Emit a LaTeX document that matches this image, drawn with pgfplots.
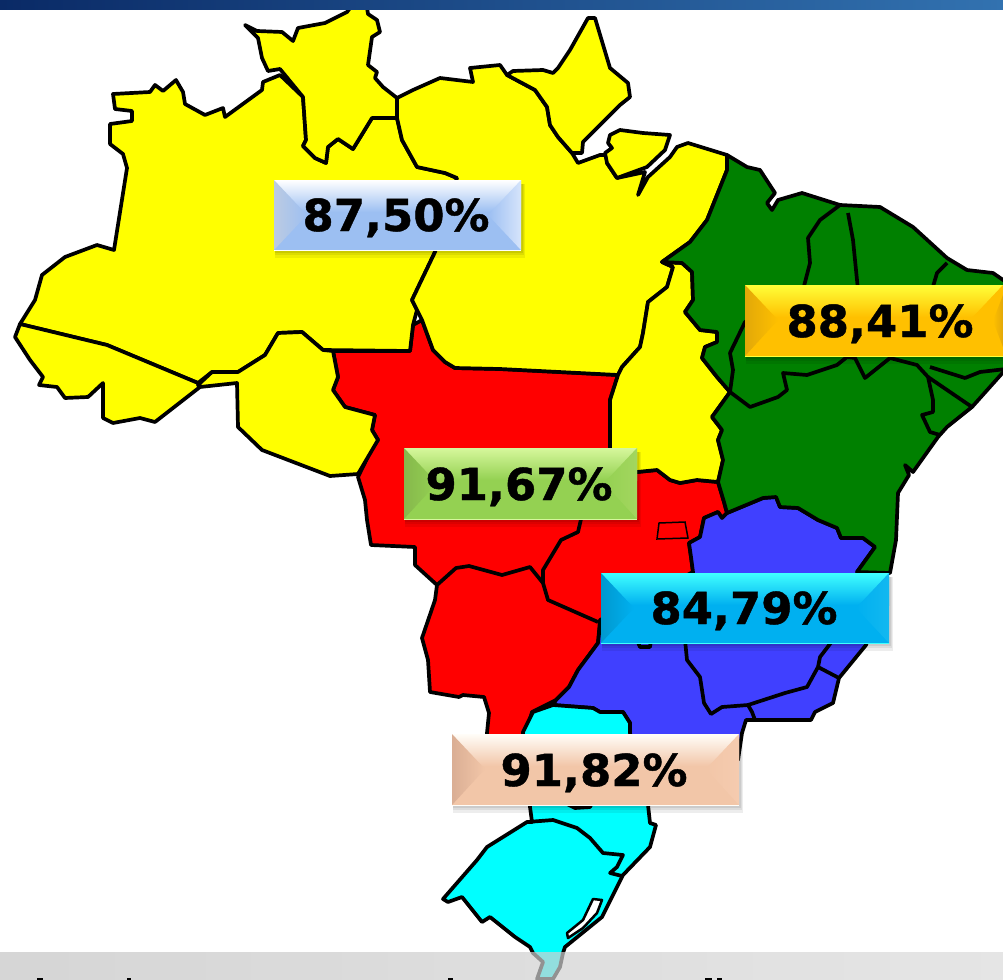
\documentclass[border=0pt]{standalone}
\usepackage{fontspec}
\setmainfont{DejaVu Sans}
\newfontfamily\platefont[FakeBold=1]{DejaVu Sans Bold}
\usepackage{pgfplots}
\pgfplotsset{compat=1.18}

\definecolor{mapyellow}{HTML}{FFFF00}
\definecolor{mapred}{HTML}{FF0000}
\definecolor{mapgreen}{HTML}{008000}
\definecolor{mapblue}{HTML}{4040FF}
\definecolor{mapcyan}{HTML}{00FFFF}
% plates: top, middle, left, right
\definecolor{bluemid}{HTML}{9CBFF2}
\definecolor{blueleft}{HTML}{BCCBE2}
\definecolor{blueright}{HTML}{D6E4FB}
\definecolor{greentop}{HTML}{D6F79C}
\definecolor{greenmid}{HTML}{94D152}
\definecolor{greenleft}{HTML}{86B84C}
\definecolor{greenright}{HTML}{A3D65F}
\definecolor{skytop}{HTML}{40FFFF}
\definecolor{skymid}{HTML}{00B0F0}
\definecolor{skyleft}{HTML}{0099CF}
\definecolor{skyright}{HTML}{12B8F0}
\definecolor{peachtop}{HTML}{FFFDF8}
\definecolor{peachmid}{HTML}{F2C6A8}
\definecolor{peachleft}{HTML}{DAAE94}
\definecolor{peachright}{HTML}{F5CBAF}
\definecolor{goldtop}{HTML}{FFFF38}
\definecolor{goldmid}{HTML}{FFC000}
\definecolor{goldleft}{HTML}{E2A808}
\definecolor{barleft}{HTML}{0A2A66}
\definecolor{barright}{HTML}{3272B0}
\definecolor{stripleft}{HTML}{C4C4C4}
\definecolor{stripright}{HTML}{DADADA}

\pgfplotsset{
  region/.style={draw=black, line width=3.7pt, line join=round, fill=#1},
  border/.style={draw=black, line width=3.7pt, line join=round, no markers},
}

% percentage plate: x1 y1 x2 y2 top mid left right
\newcommand{\plate}[8]{
  \path[fill=black, fill opacity=0.07] (axis cs:#1+1,#2+4) rectangle (axis cs:#3+4,#4+8);
  \path[fill=black, fill opacity=0.07] (axis cs:#1+1,#2+4) rectangle (axis cs:#3+3,#4+5);
  \path[fill=black, fill opacity=0.08] (axis cs:#1+1,#2+4) rectangle (axis cs:#3+2,#4+3);
  \path[top color=#5, bottom color=#6] (axis cs:#1,#2) rectangle (axis cs:#3,#2+32);
  \path[fill=#6] (axis cs:#1,#2+32) rectangle (axis cs:#3,#4);
  \path[left color=#7, right color=#6] (axis cs:#1,#2) -- (axis cs:#1+33,#2+35) -- (axis cs:#1,#4) -- cycle;
  \path[left color=#6, right color=#8] (axis cs:#3,#2) -- (axis cs:#3-33,#2+35) -- (axis cs:#3,#4) -- cycle;
  \path[draw=#5, line width=1pt] (axis cs:#1,#4) -- (axis cs:#3,#4);
}
\newcommand{\pct}[3]{
  \node[anchor=base, inner sep=0pt, font=\fontsize{44}{48}\selectfont\platefont, xscale=1.02]
    at (axis cs:#1,#2) {#3};
}

\begin{document}
\begin{tikzpicture}
\begin{axis}[
  width=1003pt, height=979pt, scale only axis,
  xmin=0, xmax=1003, ymin=0, ymax=979,
  y dir=reverse,
  hide axis,
  no markers,
]

% centre-west
\addplot[region=mapred] coordinates {
  (333,351)(410,351)(413,325)(422,320)(433,350)(445,362)(455,368)(500,369)(618,375)
  (610,400)(610,447)(610,472)(637,472)(657,470)(670,480)(680,483)(697,480)(718,482)
  (724,502)(727,513)(722,518)(718,512)(704,518)(700,537)(689,543)(691,557)(693,572)
  (600,620)(598,643)(578,670)(569,687)(556,700)(532,712)(526,733)(526,760)(490,760)
  (487,733)(489,713)(484,697)(463,695)(459,697)(430,692)(428,660)(422,638)(435,600)
  (437,585)(415,565)(415,547)(371,545)(367,520)(365,500)(358,477)(376,440)(378,440)
  (372,430)(375,415)(345,407)(333,390)(338,377)
} --cycle;

% south-east
\addplot[region=mapblue] coordinates {
  (857,572)(875,547)(863,538)(841,538)(837,528)(818,520)(798,508)(780,507)(776,497)
  (763,498)(727,513)(722,518)(718,512)(704,518)(700,537)(689,543)(691,557)(693,572)
  (693,600)(600,625)(598,643)(578,670)(569,687)(556,700)(553,705)(593,708)(600,712)
  (623,712)(630,723)(630,760)(738,760)(742,733)(746,720)(755,720)(811,720)(815,712)
  (833,703)(839,678)(866,645)(880,600)
} --cycle;

% south
\addplot[region=mapcyan] coordinates {
  (523,732)(533,712)(553,705)(593,708)(600,712)(623,712)(630,723)(630,733)(640,770)
  (648,805)(650,823)(656,825)(650,847)(623,875)(617,887)(602,917)(565,947)(563,953)
  (560,967)(553,979)(537,979)(543,962)(533,953)(530,947)(515,937)(490,917)(482,922)
  (462,897)(448,902)(443,899)(477,860)(487,847)(527,822)(532,822)(530,807)(525,770)
} --cycle;

% north: Amazonas, Roraima, Acre, Rondonia, Para, Amapa, Marajo, Tocantins
\addplot[region=mapyellow] coordinates {
  (280,75)(263,82)(262,90)(225,117)(223,108)(205,115)(185,104)(183,92)(176,80)(163,91)
  (155,85)(150,92)(113,94)(115,109)(132,111)(132,121)(110,124)(110,144)(123,154)(127,168)
  (114,250)(97,245)(65,257)(42,275)(35,300)(20,324)(107,345)(198,383)(212,372)(238,372)
  (265,355)(278,333)(302,332)(323,350)(410,351)(413,325)(417,310)(412,300)(435,252)
  (457,178)(445,173)(417,167)(402,140)(397,118)(372,118)(353,149)(338,139)(328,147)
  (326,163)(315,158)(303,146)(306,140)(303,97)
} --cycle;
\addplot[region=mapyellow] coordinates {
  (245,25)(257,31)(282,32)(293,41)(298,28)(325,23)(347,12)(350,8)(367,8)(368,14)(377,20)
  (380,32)(372,37)(368,65)(377,72)(375,78)(383,87)(397,98)(397,118)(372,118)(353,149)
  (338,139)(328,147)(326,163)(315,158)(303,146)(306,140)(303,97)(280,69)(268,71)(262,58)(258,38)
} --cycle;
\addplot[region=mapyellow] coordinates {
  (15,337)(20,324)(107,345)(198,383)(200,387)(155,422)(140,418)(113,423)(103,418)(103,383)
  (88,397)(65,398)(57,387)(39,385)(43,377)(30,360)
} --cycle;
\addplot[region=mapyellow] coordinates {
  (198,385)(212,372)(238,372)(265,355)(278,333)(302,332)(323,350)(333,351)(338,377)(333,390)
  (345,407)(375,415)(372,430)(378,440)(358,474)(330,476)(262,450)(238,427)(237,383)(200,387)
} --cycle;
\addplot[region=mapyellow] coordinates {
  (397,98)(413,90)(440,78)(473,82)(470,68)(500,65)(507,75)(535,90)(547,107)(550,125)(558,137)
  (572,153)(578,163)(600,155)(607,155)(607,163)(617,178)(645,172)(638,195)(648,177)(670,157)
  (677,147)(688,143)(727,155)(727,170)(707,220)(690,242)(662,262)(673,267)(667,287)(648,302)
  (643,333)(640,347)(622,367)(618,375)(500,369)(455,368)(445,362)(433,350)(422,320)(412,300)
  (435,252)(457,178)(445,173)(417,167)(402,140)(397,118)
} --cycle;
\addplot[region=mapyellow] coordinates {
  (507,75)(513,71)(543,70)(553,73)(558,68)(570,50)(588,18)(595,18)(610,68)(628,83)(630,97)
  (620,105)(583,142)(582,153)(572,153)(558,137)(550,125)(547,107)(535,90)
} --cycle;
\addplot[region=mapyellow] coordinates {
  (610,135)(620,130)(643,133)(670,135)(665,150)(647,167)(617,178)(607,163)(605,153)(612,148)(608,143)
} --cycle;
\addplot[region=mapyellow] coordinates {
  (662,262)(682,263)(692,272)(693,300)(685,312)(700,330)(717,332)(717,342)(705,347)(702,358)
  (717,377)(730,392)(712,417)(722,430)(718,440)(723,460)(718,482)(697,480)(680,483)(670,480)
  (657,470)(637,472)(610,472)(610,447)(610,400)(618,375)(622,367)(640,347)(643,333)(648,302)
  (667,287)(673,267)
} --cycle;

% north-east
\addplot[region=mapgreen] coordinates {
  (727,155)(747,167)(760,170)(775,193)(767,203)(772,210)(778,200)(802,193)(840,205)(880,207)
  (913,227)(947,258)(967,270)(993,273)(1006,282)(1006,369)(972,407)(947,427)(938,437)(913,472)
  (905,465)(909,475)(898,493)(896,540)(890,573)(857,572)(875,547)(863,538)(841,538)(837,528)
  (818,520)(798,508)(780,507)(776,497)(763,498)(727,513)(724,502)(718,482)(723,460)(718,440)
  (722,430)(712,417)(730,392)(717,377)(702,358)(705,347)(717,342)(717,332)(700,330)(685,312)
  (693,300)(692,272)(682,263)(662,262)(690,242)(707,220)(727,170)
} --cycle;

% state borders inside the north-east
\addplot[border] coordinates {(840,205)(820,220)(808,238)(810,263)(803,290)(745,322)(730,353)(733,370)(730,392)};
\addplot[border] coordinates {(730,392)(750,407)(778,397)(787,390)(783,373)(807,375)(837,365)(847,357)(855,358)(865,378)(890,358)(917,365)(928,377)(933,400)(933,412)(922,415)(930,432)(940,435)};
\addplot[border] coordinates {(848,213)(853,240)(858,290)};
\addplot[border] coordinates {(947,263)(937,273)(932,290)};
\addplot[border] coordinates {(930,367)(965,378)(980,372)(1006,369)};
\addplot[border] coordinates {(928,377)(972,407)};

% state borders inside the centre-west
\addplot[border] coordinates {(437,585)(456,568)(469,566)(502,575)(530,567)(543,583)};
\addplot[border] coordinates {(582,515)(578,532)(561,540)(543,570)(543,583)(548,600)(598,622)};
\addplot[draw=black, line width=1.5pt, no markers] coordinates {(659,523)(685,522)(688,538)(657,539)} --cycle;

% state borders inside the south-east
\addplot[border] coordinates {(685,640)(687,660)(700,677)(704,703)(711,714)(722,707)(748,705)(785,693)(807,687)(818,667)(820,657)(833,640)};
\addplot[border] coordinates {(818,667)(839,678)};
\addplot[border] coordinates {(748,705)(752,712)(755,720)};
\addplot[border] coordinates {(637,640)(640,647)(650,647)(651,640)};

% state borders inside the south
\addplot[border] coordinates {(527,822)(553,820)(577,828)(590,838)(603,853)(623,855)(617,867)(610,873)(622,876)};
\addplot[border] coordinates {(565,803)(575,808)(590,807)(592,803)};

% lagoon
\addplot[draw=black, line width=2.5pt, line join=round, fill=white] coordinates {
  (593,899)(602,900)(597,913)(583,928)(568,938)(567,933)(583,920)
} --cycle;

\plate{274}{180}{521}{250}{white}{bluemid}{blueleft}{blueright}
\plate{404}{448}{637}{519}{greentop}{greenmid}{greenleft}{greenright}
\plate{601}{573}{889}{643}{skytop}{skymid}{skyleft}{skyright}
\plate{452}{734}{739}{805}{peachtop}{peachmid}{peachleft}{peachright}
% this one runs off the right edge
\plate{745}{285}{1003}{356}{goldtop}{goldmid}{goldleft}{goldmid}
\path[left color=goldmid, right color=goldleft] (axis cs:1003,295) -- (axis cs:993,321) -- (axis cs:1003,347) -- cycle;

\pct{396}{231}{87,50\%}
\pct{880}{337}{88,41\%}
\pct{519}{500}{91,67\%}
\pct{744}{624}{84,79\%}
\pct{594}{786}{91,82\%}

% bars of the slide
\path[left color=stripleft, right color=stripright, opacity=0.7] (axis cs:0,952) rectangle (axis cs:1003,979);
\path[left color=barleft, right color=barright] (axis cs:0,0) rectangle (axis cs:1003,10);

% tops of the cut-off line of text at the bottom edge
\addplot[draw=black, line width=2pt, no markers] coordinates {(37,978.5)(43,978.5)};
\addplot[draw=black, line width=2pt, no markers] coordinates {(127,978.5)(131,978.5)};
\addplot[draw=black, line width=2pt, no markers] coordinates {(448,978.5)(453,978.5)};
\addplot[draw=black, line width=2pt, no markers] coordinates {(705,978.5)(712,978.5)};
\addplot[draw=black, line width=2pt, no markers] coordinates {(717,978.5)(722,978.5)};

\end{axis}
\end{tikzpicture}
\end{document}
